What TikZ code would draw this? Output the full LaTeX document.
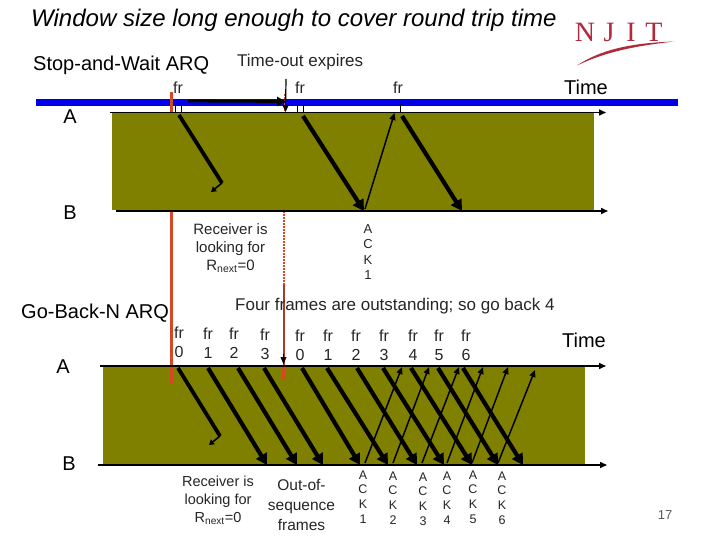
\documentclass[tikz,border=0pt]{standalone}
\usepackage{fontspec}
\setmainfont{Liberation Sans}
\newfontfamily\logofont{Liberation Serif}
\usetikzlibrary{arrows.meta}
\definecolor{olivebg}{RGB}{128,128,0}
\definecolor{barblue}{RGB}{0,0,232}
\definecolor{redline}{RGB}{214,72,36}
\definecolor{reddark}{RGB}{165,62,40}
\definecolor{njit}{RGB}{178,40,60}
\tikzset{
  lbl/.style={inner sep=0pt,align=center,text=black!85,font=\fontsize{16}{19}\selectfont},
  lblb/.style={inner sep=0pt,align=center,text=black,font=\fontsize{20}{22}\selectfont},
  ack/.style={inner sep=0pt,align=center,text=black!85,font=\fontsize{12.5}{14.7}\selectfont},
  logoletter/.style={inner sep=0pt,anchor=base,text=njit,font=\logofont\fontsize{28}{30}\selectfont},
  axisarrow/.style={line width=1.5pt,black,-{Triangle[length=7pt,width=6pt]}},
  frameline/.style={line width=4.2pt,black,-{Triangle[length=11pt,width=12pt]}},
  ackline/.style={line width=1.5pt,black,-{Triangle[length=7pt,width=6pt]}},
  stopline/.style={line width=3.8pt,black},
  stoptip/.style={line width=1.6pt,-{Triangle[length=5pt,width=6pt]}},
  thinline/.style={line width=0.7pt,black},
  redsolid/.style={line width=2.8pt,redline},
  reddash/.style={line width=2pt,redline,dash pattern=on 2pt off 1pt},
}
\begin{document}
\begin{tikzpicture}[x=1pt,y=-1pt]
\useasboundingbox (0,0) rectangle (720,540);
\fill[white] (0,0) rectangle (720,540);
% panels
\fill[olivebg] (112,113) rectangle (594,210);
\fill[olivebg] (103,366) rectangle (585,465);
% red lines
\draw[redsolid] (171.7,211) -- (171.7,384);
\draw[reddash] (284.3,211) -- (284.3,285);
\draw[line width=2pt,reddark] (283.6,285) -- (283.6,366);
\draw[redsolid] (283.3,366) -- (283.3,380);
\coordinate (redtipA) at (283.5,354);
\coordinate (redtipB) at (283.5,364);
\draw[line width=0.6pt,black,-{Triangle[length=7pt,width=6pt]}] (redtipA) -- (redtipB);
% blue bar
\fill[barblue] (36,99) rectangle (678,106);
\draw[redsolid] (171.5,92) -- (171.5,112);
\draw[line width=1.2pt,redline,dash pattern=on 2pt off 1pt] (285,94) -- (285,112);
% timeout
\coordinate (toA) at (188,101);
\coordinate (toB) at (286,101.5);
\draw[line width=2.8pt,-{Triangle[length=9pt,width=9pt]}] (toA) -- (toB);
\coordinate (teA) at (286,79);
\coordinate (teB) at (285.5,112);
\draw[line width=1.2pt,-{Triangle[length=7pt,width=6pt]}] (teA) -- (teB);
% axes
\coordinate (A1s) at (110,112.5); \coordinate (A1e) at (606,112.5);
\coordinate (B1s) at (116,211); \coordinate (B1e) at (608,211);
\coordinate (A2s) at (100,366); \coordinate (A2e) at (606,366);
\coordinate (B2s) at (98,465); \coordinate (B2e) at (607,465);
\draw[axisarrow] (A1s) -- (A1e);
\draw[axisarrow] (B1s) -- (B1e);
\draw[axisarrow] (A2s) -- (A2e);
\draw[axisarrow] (B2s) -- (B2e);
% frame ticks
\draw[thinline] (175,104) -- (175,112) (181.5,104) -- (181.5,112);
\draw[thinline] (297,104) -- (297,112) (303,104) -- (303,112);
\draw[thinline] (400,104) -- (400,112);
% top frames
\coordinate (f1a) at (179,115);
\coordinate (f1b) at (222,183);
\coordinate (f1c) at (211,192);
\draw[stopline] (f1a) -- (f1b);
\draw[stoptip] (f1b) -- (f1c);
\coordinate (f2a) at (303,116); \coordinate (f2b) at (364,211);
\draw[frameline] (f2a) -- (f2b);
\coordinate (ack1a) at (365,209); \coordinate (ack1b) at (394.5,113);
\draw[ackline] (ack1a) -- (ack1b);
\coordinate (f3a) at (402,116); \coordinate (f3b) at (462,211);
\draw[frameline] (f3a) -- (f3b);
% lower acks
\foreach \xa/\xb/\ye in {365/402/367,393/429/367,422/459/367,447/483/367,472/508/367,498/535/370}{
  \draw[ackline] (\xa,463) -- (\xb,\ye);
}
% lower frames
\coordinate (g0a) at (178,368);
\coordinate (g0b) at (220,436);
\coordinate (g0c) at (209,445);
\draw[stopline] (g0a) -- (g0b);
\draw[stoptip] (g0b) -- (g0c);
\foreach \xa/\xb in {208/267,238/297,264/323,302/360,327/388,357/417,383/444,411/472,438/498,463/523}{
  \draw[frameline] (\xa,368) -- (\xb,465);
}
% texts
\node[inner sep=0pt,anchor=base west,font=\fontsize{24}{26}\selectfont\itshape] (title) at (31,26.5) {Window size long enough to cover round trip time};
\node[lblb,anchor=base west] (sw) at (33,71) {Stop-and-Wait ARQ};
\node[lbl,anchor=base west,font=\fontsize{17}{19}\selectfont] (to) at (237,67) {Time-out expires};
\node[lbl,anchor=base] (fr1) at (178,94) {fr};
\node[lbl,anchor=base] (fr2) at (300,94) {fr};
\node[lbl,anchor=base] (fr3) at (398,94) {fr};
\node[lblb,anchor=base] (time1) at (586,95) {Time};
\node[lblb,anchor=base] (a1) at (70,124) {A};
\node[lblb,anchor=base] (b1l) at (70,219) {B};
\node[lbl,font=\fontsize{15}{18}\selectfont] (recv1) at (230.5,248) {Receiver is\\looking for\\R\textsubscript{next}=0};
\node[ack,font=\fontsize{13}{15.5}\selectfont] (ack1) at (368,252) {A\\C\\K\\1};
\node[lbl,anchor=base west,font=\fontsize{17}{19}\selectfont] (four) at (235,310) {Four frames are outstanding; so go back 4};
\node[lblb,anchor=base west] (gbn) at (21,318) {Go-Back-N ARQ};
\node[lblb,anchor=base] (a2) at (63,373) {A};
\node[lblb,anchor=base] (b2l) at (69,470) {B};
\node[lblb,anchor=base] (time2) at (584,347) {Time};
\foreach \x/\n/\yy in {179/0/0,208/1/1,234/2/1,265/3/2,300/0/3,328/1/3,356/2/3,384/3/3,413/4/3,439/5/3,466/6/3}{
  \node[lbl] (fr\x) at (\x,{342.5+\yy}) {fr\\\n};
}
\foreach \x/\n/\yy in {363/1/0,393/2/1,423/3/2,447/4/1,473/5/0,502/6/1}{
  \node[ack] (ak\x) at (\x,{497+\yy}) {A\\C\\K\\\n};
}
\node[lbl,font=\fontsize{14.5}{18}\selectfont] (recv2) at (218,500) {Receiver is\\looking for\\R\textsubscript{next}=0};
\node[lbl,font=\fontsize{15.5}{20}\selectfont] (oos) at (301.5,505) {Out-of-\\sequence\\frames};
\node[inner sep=0pt,font=\fontsize{13}{15}\selectfont,text=black!65] (pg) at (665,515) {17};
% logo
\node[logoletter] (logoN) at (585,42) {N};
\node[logoletter] (logoJ) at (609,42) {J};
\node[logoletter] (logoI) at (631,42) {I};
\node[logoletter] (logoT) at (654,42) {T};
\fill[njit] (577,65.5) .. controls (600,50) and (630,43) .. (674,41.5) .. controls (635,46) and (605,52) .. (577,65.5) -- cycle;
\end{tikzpicture}
\end{document}
